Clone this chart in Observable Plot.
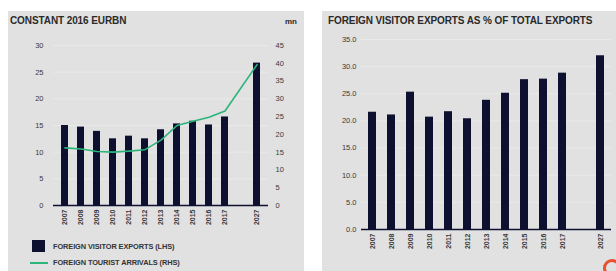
<!DOCTYPE html>
<html>
<head>
<meta charset="utf-8">
<script src="https://cdn.jsdelivr.net/npm/d3@7"></script>
<script src="https://cdn.jsdelivr.net/npm/@observablehq/plot@0.6"></script>
<style>
  html, body { margin: 0; padding: 0; background: #fff; }
  #page { position: relative; width: 616px; height: 271px; overflow: hidden; background: #fff; font-family: "Liberation Sans", Arial, sans-serif; }
  .panel { position: absolute; background: #e1e1e1; }
  .title { position: absolute; font-weight: bold; color: #2a2a2a; font-size: 10px; letter-spacing: -0.1px; white-space: nowrap; }
  .plot { position: absolute; top: 0; }
  .legtxt { position: absolute; font-size: 7.4px; font-weight: bold; color: #333; white-space: nowrap; letter-spacing: -0.1px; }
  .logo { position: absolute; width: 12px; height: 12px; border: 3px solid #e8502e; border-radius: 50%; }
</style>
</head>
<body>
<div id="page">
  <div class="panel" style="left:8px; top:11px; width:296px; height:260px;"></div>
  <div class="panel" style="left:322px; top:11px; width:294px; height:260px;"></div>
  <div class="title" style="left:10px; top:15px;">CONSTANT 2016 EURBN</div>
  <div class="title" style="left:285px; top:17px; font-size:8px;">mn</div>
  <div class="title" style="left:328px; top:15px;">FOREIGN VISITOR EXPORTS AS % OF TOTAL EXPORTS</div>
  <div id="left" class="plot" style="left:0px;"></div>
  <div id="right" class="plot" style="left:310px;"></div>
  <div style="position:absolute; left:32px; top:240px; width:13px; height:12px; background:#0e1030;"></div>
  <div class="legtxt" style="left:53px; top:242px;">FOREIGN VISITOR EXPORTS (LHS)</div>
  <div style="position:absolute; left:30px; top:262px; width:18px; height:2px; background:#2bb57a;"></div>
  <div class="legtxt" style="left:53px; top:258px;">FOREIGN TOURIST ARRIVALS (RHS)</div>
  <div class="logo" style="left:603px; top:259px;"></div>
</div>
<script>
// ---- data ----
const years = ["2007","2008","2009","2010","2011","2012","2013","2014","2015","2016","2017","2027"];
const visitorExports = [15.0, 14.7, 13.9, 12.5, 13.0, 12.5, 14.2, 15.3, 15.8, 15.1, 16.6, 26.7]; // EUR bn (LHS)
const touristArrivals = [16.2, 15.9, 15.2, 15.0, 15.3, 15.7, 18.4, 22.5, 23.7, 24.8, 26.6, 39.6]; // mn (RHS)
const exportShare = [21.6, 21.1, 25.3, 20.7, 21.7, 20.4, 23.8, 25.1, 27.6, 27.7, 28.8, 32.0]; // % of total exports
const leftTicks = [0, 5, 10, 15, 20, 25, 30];
const rightTicks = [0, 5, 10, 15, 20, 25, 30, 35, 40, 45];
const shareTicks = [0, 5, 10, 15, 20, 25, 30, 35];

const navy = "#0e1030";
const green = "#2bb57a";
const gridColor = "#ebebeb";
const textColor = "#3a3a3a";

// band domain with an empty slot before the forecast year
const xDomain = [...years.slice(0, 11), " ", years[11]];
const rows = years.map((y, i) => ({year: y, exports: visitorExports[i], arrivals: touristArrivals[i], share: exportShare[i]}));
const k = 30 / 45; // RHS -> LHS scale factor

const left = Plot.plot({
  width: 310, height: 271,
  marginLeft: 53, marginRight: 42, marginTop: 45, marginBottom: 66,
  style: {background: "transparent", fontFamily: "Liberation Sans, Arial, sans-serif", fontSize: "7.5px", color: textColor},
  x: {type: "band", domain: xDomain, paddingInner: 0.58, paddingOuter: 0.29},
  y: {domain: [0, 30]},
  marks: [
    Plot.gridY(leftTicks.slice(1), {stroke: gridColor, strokeOpacity: 1, strokeWidth: 0.8}),
    Plot.barY(rows, {x: "year", y: "exports", fill: navy}),
    Plot.line(rows, {x: "year", y: d => d.arrivals * k, stroke: green, strokeWidth: 1.6}),
    Plot.ruleY([0], {stroke: navy, strokeWidth: 1.4}),
    Plot.axisY({ticks: leftTicks, tickSize: 0, tickPadding: 10, label: null, fill: textColor}),
    Plot.axisY({anchor: "right", ticks: rightTicks.map(v => v * k), tickFormat: d => String(Math.round(d / k)), tickSize: 0, tickPadding: 7, label: null, fill: textColor}),
    Plot.axisX({ticks: years, tickRotate: -90, tickSize: 0, tickPadding: 4, label: null, fill: textColor, fontSize: 7, fontWeight: "bold"})
  ]
});
document.getElementById("left").appendChild(left);

const right = Plot.plot({
  width: 306, height: 271,
  marginLeft: 51, marginRight: 5, marginTop: 39, marginBottom: 42,
  style: {background: "transparent", fontFamily: "Liberation Sans, Arial, sans-serif", fontSize: "7.5px", color: textColor},
  x: {type: "band", domain: xDomain, paddingInner: 0.58, paddingOuter: 0.29},
  y: {domain: [0, 35]},
  marks: [
    Plot.gridY(shareTicks.slice(1), {stroke: gridColor, strokeOpacity: 1, strokeWidth: 0.8}),
    Plot.barY(rows, {x: "year", y: "share", fill: navy}),
    Plot.ruleY([0], {stroke: navy, strokeWidth: 1.4}),
    Plot.axisY({ticks: shareTicks, tickFormat: d => d.toFixed(1), tickSize: 0, tickPadding: 5, label: null, fill: textColor}),
    Plot.axisX({ticks: years, tickRotate: -90, tickSize: 0, tickPadding: 4, label: null, fill: textColor, fontSize: 7, fontWeight: "bold"})
  ]
});
document.getElementById("right").appendChild(right);
</script>
</body>
</html>
